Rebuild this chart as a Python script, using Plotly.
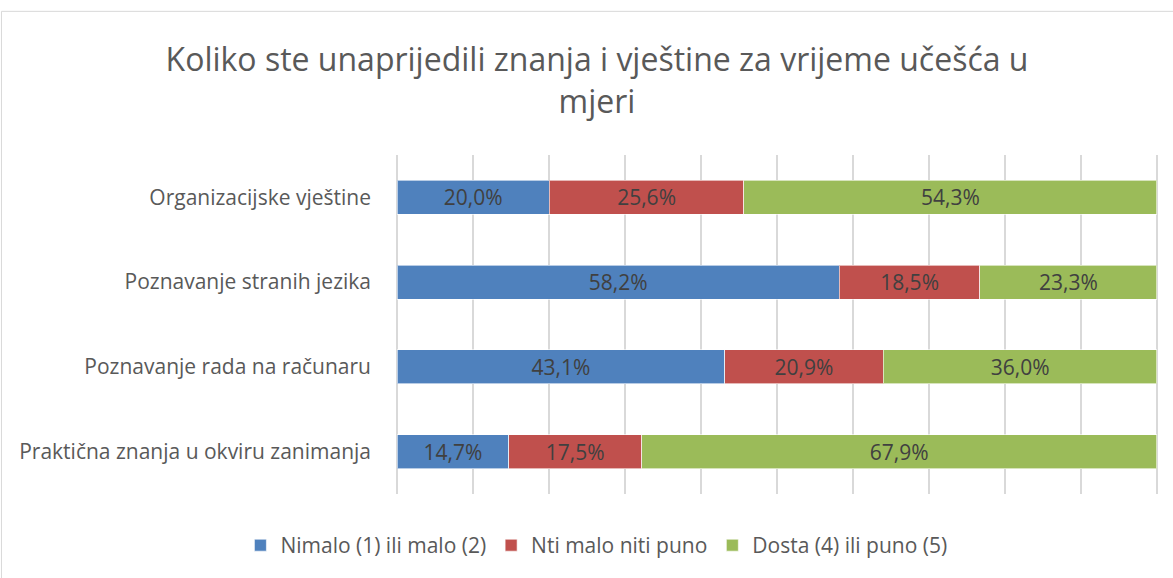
import plotly.graph_objects as go

categories = [
    "Organizacijske vještine",
    "Poznavanje stranih jezika",
    "Poznavanje rada na računaru",
    "Praktična znanja u okviru zanimanja",
]
series_names = ["Nimalo (1) ili malo (2)", "Nti malo niti puno", "Dosta (4) ili puno (5)"]
nimalo = [20.0, 58.2, 43.1, 14.7]
srednje = [25.6, 18.5, 20.9, 17.5]
dosta = [54.3, 23.3, 36.0, 67.9]
colors = ["#4f81bd", "#c0504d", "#9bbb59"]

FONT = "Open Sans"
W, H = 1173, 578
fig = go.Figure()
for name, vals, col in zip(series_names, [nimalo, srednje, dosta], colors):
    fig.add_trace(go.Bar(
        y=categories, x=vals, name=name, orientation="h",
        marker=dict(color=col, line=dict(color="rgba(255,255,255,0.6)", width=1)),
        text=[f"{v:.1f}%".replace(".", ",") for v in vals],
        textposition="inside", insidetextanchor="middle",
        textfont=dict(family=FONT, size=21, color="#404040"),
        constraintext="none",
        hoverinfo="skip",
    ))

fig.update_layout(
    barmode="stack", barnorm="percent", bargap=0.6,
    width=W, height=H,
    margin=dict(l=396, r=15, t=155, b=82),
    paper_bgcolor="white", plot_bgcolor="white",
    font=dict(family=FONT, color="#595959"),
    title=dict(
        text="Koliko ste unaprijedili znanja i vještine za vrijeme učešća u<br>mjeri",
        x=597 / W, xanchor="center", y=0.877, yanchor="top",
        font=dict(family=FONT, size=32, color="#595959"),
    ),
    xaxis=dict(range=[-0.15, 100.15], tick0=0, dtick=10, showticklabels=False,
               showgrid=True, gridcolor="#d9d9d9", gridwidth=1.5,
               zeroline=False, showline=False, fixedrange=True),
    yaxis=dict(autorange="reversed", showgrid=False, showline=False,
               ticks="", ticklabelstandoff=24,
               tickfont=dict(family=FONT, size=21, color="#595959")),
    legend=dict(orientation="h", x=0.263, xanchor="center", y=-0.152, yanchor="middle",
                font=dict(family=FONT, size=21, color="#595959"),
                traceorder="normal", itemwidth=30),
    showlegend=True,
    shapes=[dict(type="rect", xref="paper", yref="paper",
                 x0=(3.5 - 397) / 760, x1=(1180 - 397) / 760,
                 y0=(496 - 590) / 341, y1=(496 - 10.5) / 341,
                 line=dict(color="#d9d9d9", width=1), layer="below")],
)

fig.write_html("out.html", config={"displayModeBar": False},
               post_script="document.body.style.margin='0';")
